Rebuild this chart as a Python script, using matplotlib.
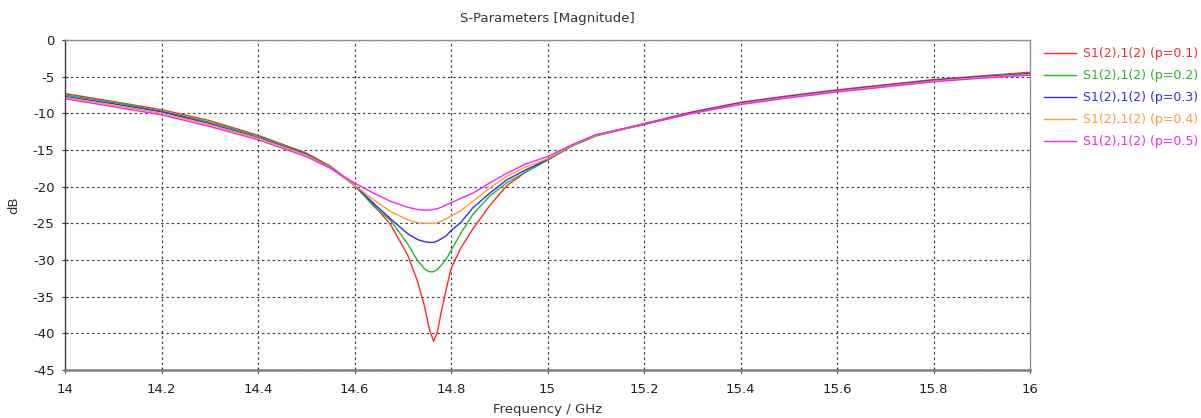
import matplotlib
matplotlib.use("Agg")
import matplotlib.pyplot as plt

freq = [14.0, 14.1, 14.2, 14.3, 14.4, 14.5, 14.55, 14.6, 14.64, 14.675, 14.71, 14.73,
        14.745, 14.755, 14.764, 14.772, 14.78, 14.79, 14.8, 14.82, 14.845, 14.88, 14.915,
        14.955, 15.0, 15.05, 15.1, 15.2, 15.3, 15.4, 15.5, 15.6, 15.7, 15.8, 15.9, 16.0]

s_p01 = [-7.3, -8.4, -9.5, -11.0, -13.0, -15.4, -17.2, -19.8, -22.5, -25.2, -29.3, -32.8,
         -36.3, -39.4, -41.1, -39.8, -37.0, -34.0, -31.2, -28.4, -25.8, -22.6, -19.9,
         -18.0, -16.3, -14.4, -13.0, -11.4, -9.8, -8.5, -7.6, -6.8, -6.1, -5.4, -4.9, -4.4]
s_p02 = [-7.5, -8.5, -9.7, -11.2, -13.1, -15.5, -17.3, -19.8, -22.7, -24.6, -27.8, -30.0,
         -31.2, -31.6, -31.6, -31.3, -30.7, -29.9, -28.7, -26.4, -23.8, -21.3, -19.5,
         -18.0, -16.4, -14.5, -13.1, -11.5, -9.9, -8.6, -7.7, -6.9, -6.2, -5.5, -5.0, -4.5]
s_p03 = [-7.7, -8.7, -9.8, -11.4, -13.3, -15.6, -17.4, -19.8, -22.3, -24.4, -26.4, -27.2,
         -27.5, -27.6, -27.6, -27.4, -27.1, -26.7, -26.0, -24.9, -22.9, -20.9, -19.1,
         -17.7, -16.3, -14.4, -13.0, -11.5, -9.9, -8.6, -7.7, -6.9, -6.2, -5.5, -5.0, -4.6]
s_p04 = [-7.85, -8.9, -10.0, -11.6, -13.4, -15.7, -17.4, -19.8, -21.8, -23.4, -24.5, -24.9,
         -25.0, -25.0, -25.0, -24.9, -24.7, -24.4, -24.0, -23.3, -22.0, -20.2, -18.6,
         -17.3, -16.2, -14.4, -13.0, -11.5, -10.0, -8.7, -7.8, -7.0, -6.3, -5.6, -5.1, -4.7]
s_p05 = [-8.0, -9.1, -10.2, -11.8, -13.6, -15.9, -17.5, -19.5, -20.9, -22.0, -22.8, -23.1,
         -23.2, -23.2, -23.1, -23.0, -22.8, -22.5, -22.2, -21.6, -20.9, -19.5, -18.2,
         -16.9, -15.9, -14.3, -12.9, -11.5, -10.0, -8.8, -7.9, -7.1, -6.4, -5.7, -5.2, -4.8]

labels = ["S1(2),1(2) (p=0.1)", "S1(2),1(2) (p=0.2)", "S1(2),1(2) (p=0.3)",
          "S1(2),1(2) (p=0.4)", "S1(2),1(2) (p=0.5)"]
colors = ["#FF2828", "#28B428", "#2D2DFF", "#FF9A3A", "#F028F0"]
series = [s_p01, s_p02, s_p03, s_p04, s_p05]

xticks = [14, 14.2, 14.4, 14.6, 14.8, 15, 15.2, 15.4, 15.6, 15.8, 16]
xticklabels = ["14", "14.2", "14.4", "14.6", "14.8", "15", "15.2", "15.4", "15.6", "15.8", "16"]
yticks = [0, -5, -10, -15, -20, -25, -30, -35, -40, -45]

plt.rcParams['font.family'] = ['DejaVu Sans']
fs = 9.5

fig = plt.figure(figsize=(12.01, 4.18), dpi=100)
ax = fig.add_axes([65/1201, 48/418, 965/1201, 330/418])

for ys, c, lab in zip(series, colors, labels):
    ax.plot(freq, ys, color=c, lw=1.0, label=lab)

ax.set_xlim(14, 16)
ax.set_ylim(-45, 0)
ax.set_xticks(xticks)
ax.set_xticklabels(xticklabels)
ax.set_yticks(yticks)
ax.set_yticklabels([str(t) for t in yticks])
ax.tick_params(direction='inout', length=5, width=0.8, colors='#333333', labelsize=fs,
               labelcolor='#222222')
ax.tick_params(axis='x', pad=7)
ax.tick_params(axis='y', pad=5)
ax.grid(True, color='#3c3c3c', linestyle=(0, (2, 2.5)), linewidth=0.85)

for side in ['top', 'right']:
    ax.spines[side].set_color('#909090')
    ax.spines[side].set_linewidth(1.0)
ax.spines['left'].set_color('#404040')
ax.spines['left'].set_linewidth(1.0)
ax.spines['bottom'].set_color('#808080')
ax.spines['bottom'].set_linewidth(1.8)

ax.set_title("S-Parameters [Magnitude]", fontsize=fs, color='#333333', pad=13)
ax.set_xlabel("Frequency / GHz", fontsize=fs, color='#333333', labelpad=5)
ax.set_ylabel("dB", fontsize=fs, color='#333333', labelpad=9)

leg = ax.legend(loc='upper left', bbox_to_anchor=(1.014, 0.978), frameon=False,
                fontsize=9, handlelength=2.6, handletextpad=0.55, labelspacing=0.72,
                labelcolor='linecolor', borderaxespad=0, borderpad=0)

fig.savefig("out.png", dpi=100)
